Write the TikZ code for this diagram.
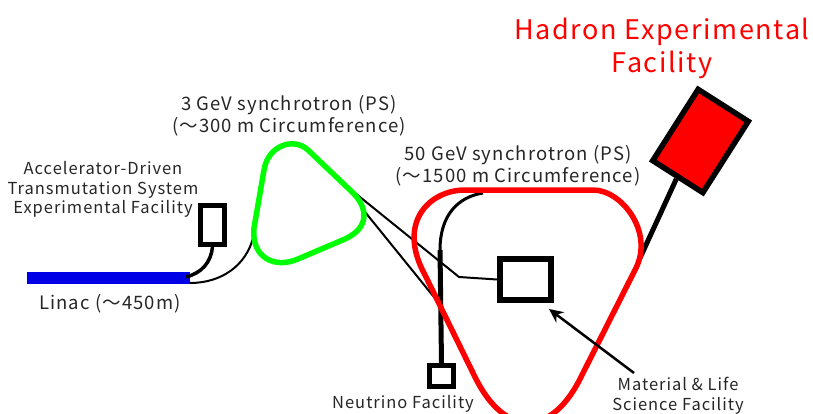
\documentclass[tikz,border=0pt]{standalone}
\usepackage{fontspec}
\usepackage{tikz}
\usetikzlibrary{arrows.meta}
\setmainfont[LetterSpace=6]{Noto Sans CJK JP}
\tikzset{
    facility/.style={draw=black, fill=white, inner sep=0pt},
    caption/.style={align=center, inner sep=0pt, text=black!85, font=\fontsize{18.5}{22}\selectfont},
    smallcaption/.style={caption, font=\fontsize{16.5}{19.5}\selectfont},
    beamline/.style={draw=black, line width=2pt},
}
\begin{document}
\begin{tikzpicture}[x=1pt, y=-1pt]
    \useasboundingbox (0,0) rectangle (813,414);
    \clip (0,0) rectangle (813,414);
    \node[fill={rgb,255:red,0;green,0;blue,230}, minimum width=163pt, minimum height=12pt, inner sep=0pt] (linac) at (108,278) {};
    \node[facility, line width=5pt, minimum width=24pt, minimum height=39pt] (ads) at (212.5,225) {};
    \node[facility, line width=5pt, minimum width=24pt, minimum height=21pt] (neutrino) at (441.5,376) {};
    \node[facility, line width=6pt, minimum width=51pt, minimum height=41pt] (mlf) at (525.5,279.5) {};
    \node[facility, fill=red, line width=5.5pt, minimum width=59.5pt, minimum height=84.5pt, rotate=-32.5] (hadron) at (700.5,141) {};
    \coordinate (psin) at (253,238);
    \coordinate (psouta) at (355,193);
    \coordinate (psoutb) at (361,207);
    \coordinate (mlfbend) at (459,277);
    \coordinate (ntop) at (483,193);
    \coordinate (nbend) at (440,250);
    \coordinate (ringhd) at (640,258);
    \coordinate (nend) at (442,307);
    \coordinate (mlftail) at (634,373);
    \coordinate (mlftip) at (549,309);
    \draw[beamline, line width=3.5pt] (ads.south) .. controls (211,262) and (202,273) .. (186,277);
    \draw[beamline] (190,283) .. controls (222,283) and (246,265) .. (psin);
    \draw[beamline, line join=round] (psouta) -- (mlfbend) -- (mlf.west);
    \draw[beamline] (psoutb) -- (nend);
    \draw[beamline, line width=3pt] (ntop) .. controls (458,197) and (440,215) .. (nbend);
    \draw[beamline, line width=5pt] (nbend) -- (neutrino.north);
    \draw[beamline, line width=5pt] (hadron.south) -- (ringhd);
    \draw[draw={rgb,255:red,0;green,255;blue,0}, line width=5.5pt]
        (264,170) .. controls (268,145) and (294,137) .. (308,150) -- (350,190)
        .. controls (368,206) and (371,227) .. (345,239) -- (298,259)
        .. controls (275,269) and (251,258) .. (254,228) -- cycle;
    \draw[draw=red, line width=5.5pt]
        (465,190) -- (593,190) .. controls (622,190) and (653.7,232) .. (636,268) -- (582,375)
        .. controls (552,438) and (505,438) .. (475,377) -- (425,275)
        .. controls (396,222) and (430,190) .. (465,190) -- cycle;
    \draw[line width=2.5pt, -{Stealth[length=14pt, width=13pt]}] (mlftail) -- (mlftip);
    \node[align=center, inner sep=0pt, text=red, font=\fontsize{27}{33}\selectfont] (hadronlabel) at (662,48) {Hadron Experimental\\Facility};
    \node[caption] (pslabel) at (289,116) {3 GeV synchrotron (PS)\\(～300 m Circumference)};
    \node[caption] (mrlabel) at (518,166) {50 GeV synchrotron (PS)\\(～1500 m Circumference)};
    \node[smallcaption] (adslabel) at (103,189.5) {Accelerator-Driven\\Transmutation System\\Experimental Facility};
    \node[caption] (linaclabel) at (110,304) {Linac (～450m)};
    \node[smallcaption] (neutrinolabel) at (403,404) {Neutrino Facility};
    \node[smallcaption] (mlflabel) at (678,396) {Material \& Life\\Science Facility};
\end{tikzpicture}
\end{document}
